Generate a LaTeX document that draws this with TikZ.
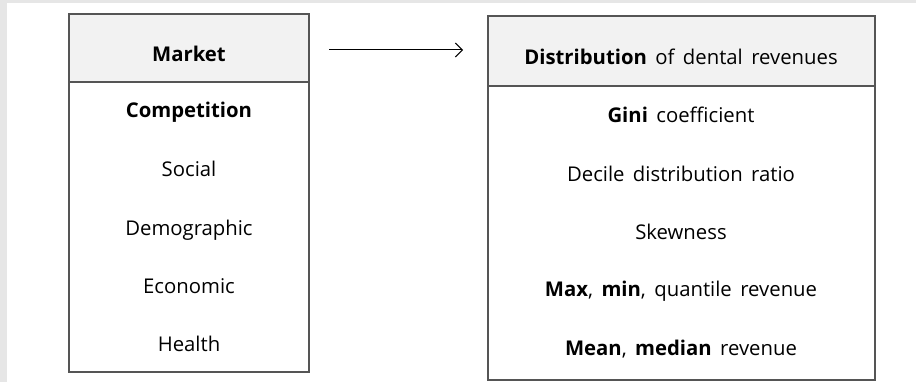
\documentclass[tikz,border=0pt]{standalone}
\usepackage{fontspec}
\setmainfont{Open Sans}[WordSpace=1.6]
\usetikzlibrary{arrows.meta}
\definecolor{framegray}{HTML}{E6E6E6}
\definecolor{headgray}{HTML}{F2F2F2}
\definecolor{linegray}{HTML}{555555}
\tikzset{
  boxline/.style={draw=linegray, line width=1.3pt},
  item/.style={font=\fontsize{20.3}{24}\selectfont, inner sep=0pt, text height=14.5pt, text depth=0pt, anchor=center}
}
\begin{document}
\begin{tikzpicture}[x=1pt, y=-1pt]

  % Bounding box of the scheme
  \useasboundingbox (0,0) rectangle (916,382) ;
  \fill[color=framegray] (0,0) rectangle (916,382) ;
  \fill[color=white] (7,3) rectangle (916,382) ;

  %%%%%%%%%%%%%%%%%%%%%%%%%%%%%%%%% Boxes %%%%%%%%%%%%%%%%%%%%%%%%%%%%%%%%%%%%
  % Market box
  \fill[color=headgray] (69,14) rectangle (309,82) ;
  \draw[boxline] (69,14) rectangle (309,372) ;
  \draw[boxline] (69,82) -- (309,82) ;

  % Distribution box
  \fill[color=headgray] (488,16) rectangle (875,86) ;
  \draw[boxline] (488,16) rectangle (875,380) ;
  \draw[boxline] (488,86) -- (875,86) ;

  %%%%%%%%%%%%%%%%%%%%%%%%%%%%%%%%% Texts %%%%%%%%%%%%%%%%%%%%%%%%%%%%%%%%%%%%
  \draw (189, 54.5) node[item] (market) {\textbf{Market}} ;
  \draw (189,110.5) node[item] (competition) {\textbf{Competition}} ;
  \draw (189,169) node[item] (social) {Social} ;
  \draw (189,228) node[item] (demographic) {Demographic} ;
  \draw (189,286) node[item] (economic) {Economic} ;
  \draw (189,344.5) node[item] (health) {Health} ;

  \draw (681, 57) node[item] (distribution) {\textbf{Distribution} of dental revenues} ;
  \draw (681,115.5) node[item] (gini) {\textbf{Gini} coefficient} ;
  \draw (681,174.5) node[item] (decile) {Decile distribution ratio} ;
  \draw (681,232.5) node[item] (skewness) {Skewness} ;
  \draw (681,289.5) node[item] (maxmin) {\textbf{Max}, \textbf{min}, quantile revenue} ;
  \draw (681,348) node[item] (mean) {\textbf{Mean}, \textbf{median} revenue} ;

  %%%%%%%%%%%%%%%%%%%%%%%%%%%%%%%%% Arrow %%%%%%%%%%%%%%%%%%%%%%%%%%%%%%%%%%%%
  \coordinate (a1) at (329,50) ;
  \coordinate (a2) at (463,50) ;
  \draw[line width=1pt, -{Straight Barb[length=7pt, width=14pt]}] (a1) -- (a2) ;

\end{tikzpicture}
\end{document}
